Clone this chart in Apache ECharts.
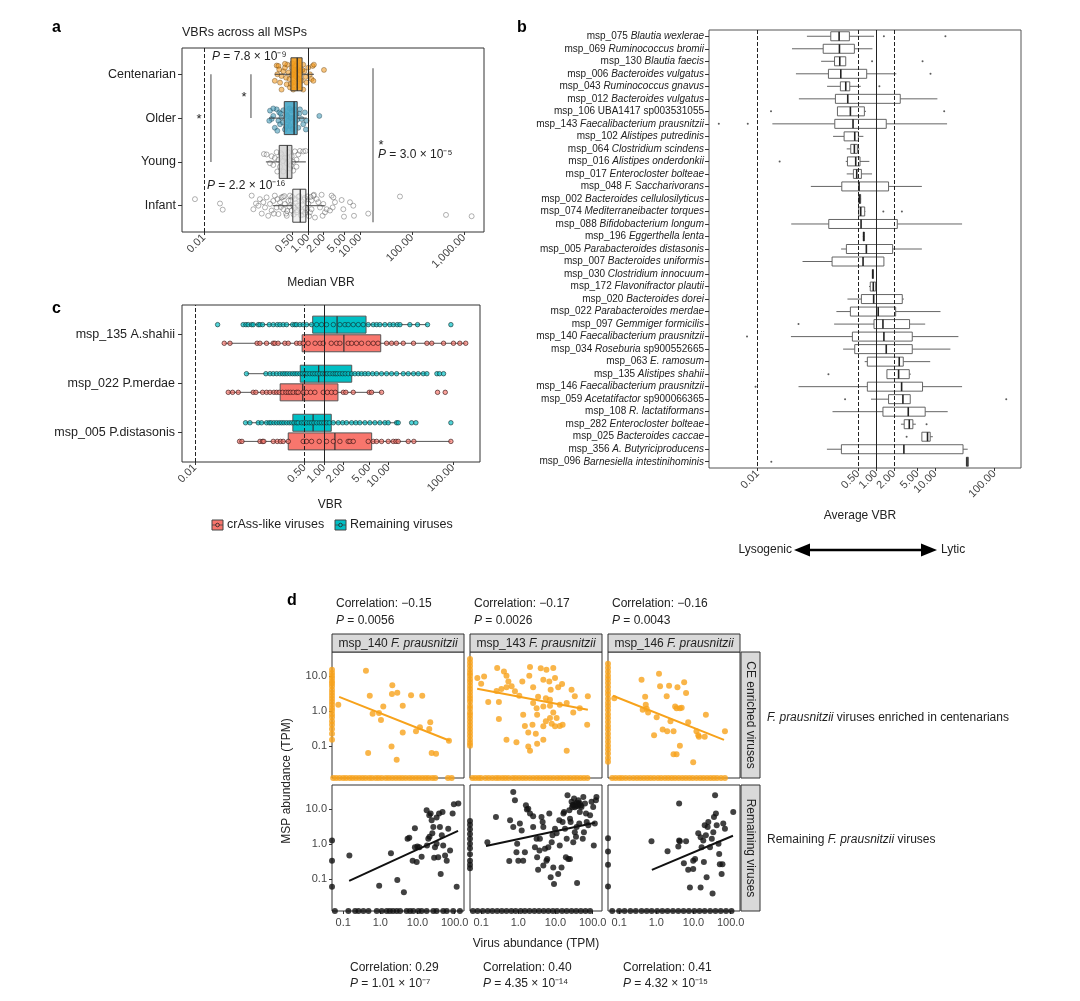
<!DOCTYPE html>
<html><head><meta charset="utf-8">
<script src="https://cdn.jsdelivr.net/npm/echarts@6/dist/echarts.min.js"></script>
<style>html,body{margin:0;padding:0;background:#fff}#c{width:1080px;height:1001px}</style>
</head><body><div id="c"></div>
<script>
// ================= DATA =================
// ---- panel a ----
const aGroups = ['Centenarian', 'Older', 'Young', 'Infant'];
const aStats = [[0.23, 0.47, 0.62, 0.77, 1.3], [0.18, 0.35, 0.54, 0.62, 0.94], [0.155, 0.28, 0.40, 0.49, 0.91], [0.21, 0.51, 0.71, 0.91, 2.1]];
const aTicks = [0.01, 0.5, 1, 2, 5, 10, 100, 1000];
const aTickLabels = ['0.01', '0.50', '1.00', '2.00', '5.00', '10.00', '100.00', '1,000.00'];
// [VBR, vertical jitter in category units]
const aCentPts = [[0.25,0.2],[0.27,0.19],[0.28,0.11],[0.257,0],[0.23,-0.15],[0.29,-0.19],[0.31,-0.04],[0.336,0.07],[0.36,0.15],[0.38,-0.08],[0.39,-0.23],[0.40,0.22],[0.42,0.04],[0.44,-0.11],[0.45,-0.3],[0.485,0.15],[0.51,0],[0.52,-0.19],[0.56,0.19],[0.6,0.07],[0.62,-0.08],[0.65,-0.26],[0.68,0.15],[0.70,0],[0.755,-0.15],[0.81,0.22],[0.85,0.07],[0.9,-0.06],[0.94,-0.19],[1.01,0.15],[1.09,0],[1.17,-0.11],[1.23,0.19],[1.27,-0.15],[1.3,0.22],[2.03,0.1],[0.31,-0.35],[0.52,-0.35],[0.81,-0.35],[0.36,0.24],[0.55,0.1],[0.58,-0.05],[0.63,0.12],[0.66,-0.12],[0.48,-0.02],[0.72,0.08],[0.5,0.25],[0.64,0.28],[0.47,-0.22],[0.78,0.1]];
const aOlderPts = [[0.186,0.17],[0.2,-0.02],[0.18,-0.06],[0.215,0.05],[0.23,-0.22],[0.25,0.2],[0.27,-0.06],[0.28,0.13],[0.29,-0.14],[0.31,0.015],[0.336,0.18],[0.36,-0.26],[0.39,0.09],[0.42,-0.06],[0.45,-0.18],[0.485,0.17],[0.52,0.015],[0.56,-0.1],[0.6,0.09],[0.65,-0.22],[0.7,0.2],[0.755,-0.02],[0.81,-0.14],[0.87,0.13],[0.94,-0.06],[0.91,-0.26],[1.65,0.05],[0.215,0.22],[0.257,-0.29],[0.33,-0.1],[0.4,0.05],[0.44,0.22],[0.5,-0.25],[0.55,0.2],[0.62,-0.04],[0.68,0.1],[0.38,-0.2],[0.47,0.0],[0.3,0.1]];
const aYoungPts = [[0.142,0.18],[0.16,0.17],[0.2,0.13],[0.215,-0.07],[0.25,0.22],[0.27,0.05],[0.29,-0.11],[0.31,0.17],[0.336,-0.22],[0.36,0.09],[0.39,-0.03],[0.42,0.22],[0.45,-0.15],[0.485,0.13],[0.52,0],[0.56,0.24],[0.6,-0.11],[0.65,0.17],[0.7,0.25],[0.81,0.24],[0.9,0.25],[0.6,0.05],[0.23,0.09],[0.186,-0.03],[0.257,-0.22],[0.52,-0.2],[0.33,0.02],[0.4,0.1],[0.47,-0.08],[0.3,0.2]];
const aInfantPts = [[0.0067,0.15],[0.0203,0.05],[0.0229,-0.09],[0.0826,0.23],[0.089,-0.08],[0.1,0.05],[0.111,0],[0.119,0.15],[0.129,-0.18],[0.138,0.08],[0.149,-0.04],[0.16,0.19],[0.172,-0.23],[0.186,0.04],[0.2,-0.11],[0.215,0.11],[0.23,0.23],[0.25,-0.04],[0.27,-0.19],[0.29,0.08],[0.31,0.19],[0.336,-0.08],[0.36,0.04],[0.39,-0.23],[0.42,0.11],[0.45,0.23],[0.485,-0.11],[0.52,0],[0.56,0.15],[0.6,-0.15],[0.65,0.2],[0.7,-0.05],[0.755,0.1],[0.81,-0.2],[0.87,0.18],[0.94,-0.1],[1.01,0.05],[1.09,-0.15],[1.17,0.12],[1.3,0.25],[1.36,-0.27],[1.47,0.15],[1.58,0.08],[1.7,-0.04],[1.83,0.25],[1.91,-0.23],[1.97,0.04],[2.12,-0.15],[2.29,-0.08],[2.65,-0.11],[2.85,0.23],[2.98,-0.04],[3.07,0.19],[3.3,0.08],[4.44,0.13],[4.78,-0.08],[4.92,-0.25],[6.42,0.08],[7.44,0],[7.67,-0.23],[14.4,-0.18],[58.7,0.21],[451,-0.21],[1403,-0.24],[1.27,0.23],[1.17,-0.08],[0.33,0.2],[0.38,-0.18],[0.44,-0.02],[0.5,0.2],[0.53,-0.2],[0.58,0.06],[0.62,-0.1],[0.68,0.22],[0.73,-0.22],[0.78,0.02],[0.84,0.14],[0.9,-0.05],[0.97,0.21],[1.05,-0.24],[0.47,0.12],[0.4,-0.12],[0.26,0.15],[0.22,-0.18],[0.64,0.0],[0.76,-0.13],[0.55,-0.05],[0.35,0.22],[0.88,-0.16],[1.12,0.2],[0.3,-0.03]];
// significance brackets: [VBR, from, to] (vertical positions in group units)
const aBrackets = [[0.08, 3, 2], [0.0136, 3, 1], [17.8, 3.14, -0.38]];

// ---- panel b ----
const bMsp = ['msp_075','msp_069','msp_130','msp_006','msp_043','msp_012','msp_106','msp_143','msp_102','msp_064','msp_016','msp_017','msp_048','msp_002','msp_074','msp_088','msp_196','msp_005','msp_007','msp_030','msp_172','msp_020','msp_022','msp_097','msp_140','msp_034','msp_063','msp_135','msp_146','msp_059','msp_108','msp_282','msp_025','msp_356','msp_096'];
const bTaxon = ['Blautia wexlerae','Ruminococcus bromii','Blautia faecis','Bacteroides vulgatus','Ruminococcus gnavus','Bacteroides vulgatus','UBA1417 sp003531055','Faecalibacterium prausnitzii','Alistipes putredinis','Clostridium scindens','Alistipes onderdonkii','Enterocloster bolteae','F. Saccharivorans','Bacteroides cellulosilyticus','Mediterraneibacter torques','Bifidobacterium longum','Eggerthella lenta','Parabacteroides distasonis','Bacteroides uniformis','Clostridium innocuum','Flavonifractor plautii','Bacteroides dorei','Parabacteroides merdae','Gemmiger formicilis','Faecalibacterium prausnitzii','Roseburia sp900552665','E. ramosum','Alistipes shahii','Faecalibacterium prausnitzii','Acetatifactor sp900066365','R. lactatiformans','Enterocloster bolteae','Bacteroides caccae','A. Butyriciproducens','Barnesiella intestinihominis'];
const bStats = [[0.068,0.172,0.238,0.355,0.925],[0.038,0.128,0.241,0.431,0.87],[0.118,0.199,0.244,0.308,0.308],[0.0443,0.157,0.254,0.696,2.2],[0.149,0.25,0.308,0.36,0.552],[0.0497,0.206,0.333,2.57,10.9],[0.223,0.223,0.369,0.636,0.678],[0.0177,0.201,0.409,1.49,15.9],[0.188,0.289,0.437,0.504,0.612],[0.32,0.374,0.431,0.484,0.524],[0.308,0.329,0.454,0.537,0.772],[0.32,0.415,0.472,0.566,0.857],[0.0792,0.264,0.517,1.63,5.96],[0.5,0.51,0.53,0.55,0.56],[0.51,0.51,0.552,0.644,0.66],[0.0369,0.159,0.559,2.29,28.5],[0.6,0.61,0.62,0.63,0.64],[0.257,0.316,0.687,1.91,5.96],[0.0573,0.181,0.604,1.36,1.36],[0.86,0.87,0.88,0.89,0.9],[0.762,0.80,0.90,0.987,1.013],[0.329,0.566,0.913,2.78,2.96],[0.214,0.369,1.09,2.15,12.3],[0.196,0.925,1.31,3.69,6.78],[0.0365,0.399,1.36,4.1,24.7],[0.278,0.437,1.49,4.1,18.1],[0.644,0.714,2.47,2.89,8.24],[1.53,1.53,2.41,3.65,3.89],[0.049,0.714,2.71,6.12,28.5],[0.824,1.63,2.85,3.79,3.79],[0.184,1.31,3.51,6.78,16.3],[2.64,3.0,3.65,4.2,4.72],[5.96,5.96,7.43,8.24,9.14],[0.148,0.26,2.96,29.6,35.5],[33.7,33.7,34.6,36.5,36.5]];
const bOutliers = [[0,1.36],[0,14.9],[2,0.857],[2,6.12],[3,8.35],[4,1.14],[6,0.0168],[6,14.2],[7,0.0068],[7,0.0022],[10,0.0235],[14,1.33],[14,2.74],[23,0.049],[24,0.0066],[27,0.157],[28,0.0092],[29,0.30],[29,159],[31,7.15],[32,3.29],[34,0.017]];
const bTicks = [0.01, 0.5, 1, 2, 5, 10, 100];
const bTickLabels = ['0.01', '0.50', '1.00', '2.00', '5.00', '10.00', '100.00'];

// ---- panel c ----
const cSpecies = ['msp_135 A.shahii', 'msp_022 P.merdae', 'msp_005 P.distasonis'];
const cRemStats = [[0.056,0.67,1.6,4.5,40.4],[0.063,0.43,0.83,2.7,39.5],[0.061,0.33,0.68,1.3,14.2]];
const cCrassStats = [[0.0285,0.46,2.04,7.6,158],[0.0329,0.21,0.47,1.65,7.83],[0.0493,0.28,1.48,5.5,93]];
const cRemPts = [
  [0.0225,0.056,0.0618,0.0671,0.0757,0.0802,0.0959,0.102,0.112,0.142,0.164,0.189,0.208,0.234,0.264,0.327,0.355,0.377,0.424,0.478,0.538,0.644,0.77,0.92,1.1,1.4,1.77,2.12,2.38,2.85,3.41,4.07,4.87,5.82,6.56,7.38,8.83,10.5,11.9,13.7,15.1,21.5,28.3,40.4,93],
  [0.063,0.126,0.146,0.164,0.185,0.208,0.229,0.248,0.27,0.297,0.327,0.355,0.386,0.424,0.466,0.507,0.55,0.606,0.667,0.724,0.789,0.867,0.953,1.04,1.13,1.24,1.38,1.5,1.61,1.77,1.95,2.14,2.38,2.69,3.02,3.41,3.83,4.33,4.87,5.69,6.56,7.83,9.37,11.2,13.4,17,20.3,24.5,29,34.7,39.5,56.5,62,71.6],
  [0.061,0.0713,0.0959,0.108,0.129,0.142,0.152,0.168,0.185,0.203,0.221,0.24,0.264,0.29,0.316,0.343,0.377,0.4,0.451,0.49,0.538,0.592,0.644,0.7,0.77,0.847,0.92,1.0,1.1,1.21,1.4,1.67,1.95,2.24,2.69,3.13,3.61,4.33,5.16,6.18,7.38,8.83,9.93,13.4,14.2,22.9,26.7,93]
];
const cCrassPts = [
  [0.0285,0.035,0.092,0.102,0.129,0.164,0.174,0.195,0.248,0.28,0.377,0.424,0.478,0.57,0.73,0.87,0.977,1.3,1.57,1.77,2.38,2.69,3.2,3.83,4.87,5.82,6.9,9.37,11.2,13.3,17,24.5,39.5,47,71.6,102,128,158],
  [0.0329,0.0384,0.047,0.0802,0.0883,0.112,0.129,0.146,0.168,0.185,0.203,0.229,0.257,0.28,0.304,0.334,0.377,0.4,0.478,0.538,0.621,0.724,0.977,1.13,1.31,1.5,2.0,2.19,2.85,5.05,5.48,7.83,57.8,76],
  [0.0493,0.0536,0.102,0.112,0.117,0.164,0.189,0.213,0.234,0.28,0.478,0.538,0.644,0.847,1.1,1.4,1.77,2.38,2.53,2.85,4.87,5.82,6.56,7.83,9.93,11.9,13.1,14.2,20.3,24.8,93]
];

// ---- panel d ----  [virus TPM, MSP TPM]; zeros listed separately
const dMsp = ['msp_140', 'msp_143', 'msp_146'];
const dTopPts1 = [[0.41,14],[0.52,2.7],[0.62,0.82],[0.92,0.86],[1.2,1.33],[0.47,0.062],[1.04,0.55],[2.05,3.0],[2.1,5.4],[2.86,3.3],[4.0,1.39],[6.7,2.8],[13.4,2.7],[9.1,0.26],[4.0,0.24],[2.0,0.095],[2.75,0.04],[11.6,0.34],[22,0.47],[24,0.062],[31.5,0.059],[20.7,0.3],[70,0.14],[0.074,1.48]];
const dTopPts2 = [[0.079,8.6],[0.10,5.9],[0.155,1.77],[0.27,16.6],[0.41,13.3],[0.48,10],[0.54,6.9],[0.48,4.7],[0.35,4.2],[0.66,5.0],[0.81,3.6],[1.06,2.7],[1.28,6.9],[1.97,10],[2.06,17.7],[2.5,4.7],[4.0,16.3],[4.7,7.7],[5.7,14.8],[6.8,6.9],[8.7,16.6],[9.7,8.6],[11.8,4.7],[15,5.8],[7.4,4.0],[5.5,2.3],[3.4,2.5],[2.5,1.66],[3.1,1.19],[4.7,1.33],[7.1,1.39],[8.7,0.9],[13,1.48],[20,1.66],[30,0.9],[45,1.19],[71,0.4],[74,2.6],[0.30,0.58],[0.48,0.15],[0.89,0.126],[1.5,0.37],[1.85,0.24],[2.4,0.4],[2.95,0.22],[3.2,0.115],[4.7,0.36],[5.5,0.5],[7.1,0.62],[7.9,0.43],[9.7,0.36],[10.7,0.62],[13,0.37],[15.5,0.4],[20,0.072],[2.06,0.072],[1.85,0.095],[0.30,1.77],[0.26,3.7],[0.12,9.6],[3.2,0.77],[1.35,0.77],[7.1,2.06],[27,4.0],[33,2.6],[4.7,0.15]];
const dTopPts3 = [[0.074,2.3],[0.40,7.7],[0.50,2.5],[0.52,1.48],[0.55,1.15],[0.43,1.07],[0.6,0.9],[1.02,0.65],[1.18,11.5],[1.26,5.0],[1.9,2.6],[2.2,5.2],[2.4,0.5],[2.9,0.26],[3.5,1.19],[3.7,4.7],[4.3,1.19],[4.8,1.22],[5.6,6.5],[6.3,3.2],[2.9,0.057],[3.5,0.057],[4.3,0.1],[7.2,0.47],[9.8,0.034],[12,0.26],[13.4,0.2],[14,0.18],[20,0.18],[21.5,0.77],[70,0.26],[0.87,0.2],[1.48,0.29],[1.96,0.26],[3.2,1.33]];
const dBotPts1 = [[0.147,0.46],[1.93,0.54],[2.86,0.092],[4.3,0.041],[5.4,1.39],[6.0,1.49],[7.4,0.33],[8.5,2.8],[9.5,0.3],[9.9,0.84],[11.2,0.8],[12.9,0.43],[17.6,9.1],[19.5,1.39],[20.7,6.5],[22.5,7.3],[24,4.7],[26.6,3.0],[28,0.4],[29.5,0.8],[32.6,5.6],[36,0.41],[38,7.3],[40,3.0],[42,0.138],[47,8.1],[49,0.89],[55,0.46],[61,0.33],[67,2.7],[75,0.64],[88,7.3],[95,13.5],[113,0.059],[125,14.1],[0.93,0.063],[8.5,0.8],[18,0.89],[21,1.58],[25,1.99],[32.6,1.0],[45,1.75]];
const dBotPts2 = [[0.147,1.11],[0.25,5.8],[0.57,0.32],[0.73,30],[0.81,17.6],[0.89,0.57],[0.93,1.0],[1.0,0.33],[1.1,3.8],[1.23,2.4],[1.35,0.33],[1.6,12.6],[1.7,9.5],[1.85,10],[2.06,7.3],[2.5,6.1],[2.8,0.8],[3.1,1.39],[3.2,0.41],[3.4,0.18],[3.7,0.64],[3.8,1.39],[4.2,5.8],[4.5,4.2],[4.7,3.0],[5.2,0.72],[5.7,0.33],[6.4,0.8],[6.8,7.3],[7.4,0.11],[7.9,1.11],[8.3,1.75],[9.1,0.071],[9.7,2.7],[10.7,2.0],[11.8,0.138],[13,0.89],[14.5,0.21],[15.5,4.2],[16.3,7.3],[17,8.1],[18,2.7],[19,0.41],[20,1.39],[21,24.5],[22,0.37],[23.5,9.1],[24.5,5.2],[25.5,4.2],[27,15.8],[29,12.6],[30,1.11],[31.5,19.6],[33,2.15],[35.5,1.58],[37,3.0],[38,0.076],[41,17.6],[43.5,3.8],[45,8.1],[50,11.3],[54,1.39],[56,21.8],[58,2.15],[62,14.1],[66,7.3],[69,4.2],[76,3.4],[85,6.5],[93,15.8],[103,11.3],[114,3.8],[122,17.6],[126,21.8],[107,0.89],[0.73,3.0],[0.6,4.7],[1.5,0.57],[2.5,3.0],[4.7,0.24],[6.0,0.37],[8.7,0.21],[12.6,4.7],[24.5,0.37],[30,13],[35,14],[40,12],[33,11],[38,15],[42,13.5],[36,12],[45,14.5],[28,11],[48,12.5]];
const dBotPts3 = [[0.74,1.19],[2.0,0.61],[3.9,0.84],[4.3,1.19],[5.5,0.28],[6.3,1.19],[7.2,0.18],[9.8,0.19],[11,0.37],[13.4,2.0],[15.5,1.55],[16.5,0.8],[18.3,1.25],[19,0.3],[20,3.4],[21.5,1.75],[22.5,0.11],[24,3.0],[25,4.2],[27.7,0.8],[31,1.39],[34,2.15],[35.5,5.8],[38,24.5],[40,7.3],[42,3.4],[47,1.0],[49,0.51],[51,0.26],[57,0.138],[60,0.26],[63,3.8],[70,2.7],[117,8.1],[8.0,0.056],[4.1,1.25],[15.5,0.056],[32.5,0.038],[9.8,0.33],[4.1,14.1]];
// virus TPM of points whose MSP abundance is 0
const dTopZeroMsp = [
  [0.054,0.065,0.08,0.1,0.12,0.15,0.18,0.22,0.27,0.33,0.4,0.5,0.6,0.75,0.9,1.1,1.4,1.7,2.1,2.6,3.2,3.9,4.8,6,7.3,9,11,13.5,16.5,20,25,30,66,83],
  [0.058,0.07,0.085,0.1,0.13,0.16,0.2,0.25,0.3,0.37,0.45,0.55,0.7,0.85,1.05,1.3,1.6,2,2.5,3.1,3.8,4.7,5.8,7.1,8.8,11,13.5,16.5,20.5,25,31,38,47,58,72],
  [0.065,0.08,0.1,0.12,0.15,0.19,0.24,0.3,0.37,0.46,0.57,0.7,0.87,1.1,1.35,1.7,2.1,2.6,3.2,4,5,6.2,7.7,9.5,12,15,18.5,23,28.5,35,43,55,70]
];
const dBotZeroMsp = [
  [0.06,0.138,0.21,0.26,0.35,0.48,0.8,1.09,1.48,1.8,2.2,2.75,3.4,5.1,6.3,7.7,10.5,12.9,17.6,26.6,32.6,49,61,91,138],
  [0.06,0.08,0.11,0.15,0.2,0.27,0.36,0.48,0.65,0.85,1.15,1.5,2,2.7,3.6,4.8,6.4,8.5,11,15,20,27,36,48,64,85],
  [0.065,0.1,0.14,0.2,0.28,0.4,0.55,0.75,1.05,1.45,2,2.8,3.9,5.4,7.5,10.5,14.5,20,28,39,54,75,105]
];
// MSP TPM of points whose virus abundance is 0
const dTopZeroVir = [
  [14.8,12,10,8.5,7,6,5,4,3.3,2.7,2.2,1.8,1.5,1.2,1.0,0.8,0.65,0.5,0.4,0.3,0.22,0.15],
  [30,24,19,15,12,10,8,6.5,5.2,4.2,3.4,2.7,2.2,1.8,1.4,1.15,0.9,0.75,0.6,0.48,0.38,0.3,0.24,0.19,0.15,0.12,0.1],
  [22,17,13,10,8,6.2,4.8,3.7,2.9,2.2,1.7,1.35,1.05,0.8,0.62,0.48,0.37,0.29,0.22,0.17,0.13,0.1,0.078,0.06,0.045,0.035]
];
const dBotZeroVir = [[1.25,0.33,0.059],[4.5,3.5,2.6,1.9,1.4,1.0,0.75,0.5,0.33,0.25,0.2],[1.45,0.6,0.25,0.06]];
// fitted regression endpoints [x1, y1, x2, y2]
const dTopFit = [[0.078,2.51,74,0.139],[0.078,4.26,74,1.07],[0.068,2.69,66,0.148]];
const dBotFit = [[0.145,0.087,123,2.34],[0.135,0.87,115,4.0],[0.76,0.18,115,1.7]];
const dTopCorr = ['−0.15', '−0.17', '−0.16'];
const dTopP = ['0.0056', '0.0026', '0.0043'];
const dBotCorr = ['0.29', '0.40', '0.41'];
const dBotP = ['1.01 × 10⁻⁷', '4.35 × 10⁻¹⁴', '4.32 × 10⁻¹⁵'];
const dXTicks = [0.1, 1, 10, 100];
const dXTickLabels = ['0.1', '1.0', '10.0', '100.0'];
const dYTicks = [0.1, 1, 10];
const dYTickLabels = ['0.1', '1.0', '10.0'];

// ================= BUILD =================
const FONT = '"Liberation Sans", Arial, Helvetica, sans-serif';
const TXT = '#222';
const lg = v => Math.log10(v);
const labelFor = (v, ticks, labels) => {
  for (let i = 0; i < ticks.length; i++) if (Math.abs(lg(ticks[i]) - v) < 1e-6) return labels[i];
  return '';
};

const gridDefs = [
  {left: 182, top: 48, width: 302, height: 184},
  {left: 709, top: 30, width: 312, height: 438},
  {left: 182, top: 305, width: 298, height: 157},
  {left: 332, top: 652, width: 132, height: 126},
  {left: 470, top: 652, width: 132, height: 126},
  {left: 608, top: 652, width: 132, height: 126},
  {left: 332, top: 785, width: 132, height: 126},
  {left: 470, top: 785, width: 132, height: 126},
  {left: 608, top: 785, width: 132, height: 126}
];
const grids = gridDefs.map((g, i) => Object.assign({show: true, borderColor: i === 1 ? '#555' : '#333', borderWidth: 1, backgroundColor: 'rgba(0,0,0,0)', containLabel: false, outerBoundsMode: 'none'}, g));

function logX(gridIndex, min, max, ticks, labels, showLabels, rotate, fontSize) {
  const cv = ticks.map(lg);
  return {
    type: 'value', gridIndex, min, max, position: 'bottom',
    axisLine: {show: false, onZero: false}, splitLine: {show: false},
    axisTick: {show: showLabels, length: 3, lineStyle: {color: '#333'}, customValues: cv},
    axisLabel: {show: showLabels, customValues: cv, formatter: v => labelFor(v, ticks, labels),
      rotate: rotate, fontSize: fontSize, color: '#444', fontFamily: FONT, margin: rotate ? 4 : 6}
  };
}

const xAxes = [
  logX(0, -2.423, 3.385, aTicks, aTickLabels, true, 45, 11),
  logX(1, -2.823, 2.451, bTicks, bTickLabels, true, 45, 11),
  logX(2, -2.2, 2.42, bTicks, bTickLabels, true, 45, 11)
];
for (let k = 0; k < 6; k++) xAxes.push(logX(3 + k, -1.3, 2.25, dXTicks, dXTickLabels, k >= 3, 0, 11));

const rich10 = {
  n: {fontSize: 10, fontFamily: FONT, color: TXT},
  i: {fontSize: 10, fontFamily: FONT, color: TXT, fontStyle: 'italic'}
};
function taxonRich(t) {
  return t.split(' ').map(w => /^(sp\d|UBA)/.test(w) ? '{n|' + w + '}' : '{i|' + w + '}').join('{n| }');
}

const yAxes = [
  {type: 'value', gridIndex: 0, min: -0.6, max: 3.6, position: 'left', axisLine: {show: false, onZero: false}, splitLine: {show: false},
   axisTick: {show: true, length: 4, customValues: [0, 1, 2, 3], lineStyle: {color: '#333'}},
   axisLabel: {customValues: [0, 1, 2, 3], formatter: v => aGroups[3 - Math.round(v)], fontSize: 12.5, color: TXT, fontFamily: FONT, margin: 6}},
  {type: 'category', gridIndex: 1, data: bMsp, inverse: true, position: 'left', axisLine: {show: false, onZero: false}, splitLine: {show: false},
   axisTick: {show: true, length: 4, alignWithLabel: true, interval: 0, lineStyle: {color: '#333'}},
   axisLabel: {interval: 0, margin: 5, fontSize: 10, color: TXT, fontFamily: FONT,
     formatter: (val, idx) => '{n|' + bMsp[idx] + ' }' + taxonRich(bTaxon[idx]), rich: rich10}},
  {type: 'value', gridIndex: 2, min: -0.6, max: 2.6, position: 'left', axisLine: {show: false, onZero: false}, splitLine: {show: false},
   axisTick: {show: true, length: 4, customValues: [0, 1, 2], lineStyle: {color: '#333'}},
   axisLabel: {customValues: [0, 1, 2], formatter: v => cSpecies[2 - Math.round(v)], fontSize: 12.5, color: TXT, fontFamily: FONT, margin: 7}}
];
for (let k = 0; k < 6; k++) {
  const left = k % 3 === 0;
  const cv = dYTicks.map(lg);
  yAxes.push({type: 'value', gridIndex: 3 + k, min: -1.92, max: 1.68, position: 'left', axisLine: {show: false, onZero: false}, splitLine: {show: false},
    axisTick: {show: left, length: 3, customValues: cv, lineStyle: {color: '#333'}},
    axisLabel: {show: left, customValues: cv, formatter: v => labelFor(v, dYTicks, dYTickLabels), fontSize: 11, color: '#444', fontFamily: FONT, margin: 5}});
}

function boxRender(opt) {
  return function (params, api) {
    const y = api.value(0);
    const pMin = api.coord([api.value(1), y]);
    const pQ1 = api.coord([api.value(2), y]);
    const pMed = api.coord([api.value(3), y]);
    const pQ3 = api.coord([api.value(4), y]);
    const pMax = api.coord([api.value(5), y]);
    const cy = pMed[1], h = opt.h;
    const fill = Array.isArray(opt.fill) ? opt.fill[params.dataIndex] : opt.fill;
    return {type: 'group', children: [
      {type: 'line', shape: {x1: pMin[0], y1: cy, x2: pQ1[0], y2: cy}, style: {stroke: opt.stroke, lineWidth: opt.lw}},
      {type: 'line', shape: {x1: pQ3[0], y1: cy, x2: pMax[0], y2: cy}, style: {stroke: opt.stroke, lineWidth: opt.lw}},
      {type: 'rect', shape: {x: pQ1[0], y: cy - h / 2, width: Math.max(pQ3[0] - pQ1[0], 1), height: h}, style: {fill: fill, stroke: opt.stroke, lineWidth: opt.lw}},
      {type: 'line', shape: {x1: pMed[0], y1: cy - h / 2, x2: pMed[0], y2: cy + h / 2}, style: {stroke: opt.medStroke, lineWidth: opt.medLw}}
    ]};
  };
}
function boxSeries(gi, data, opt, z) {
  return {type: 'custom', coordinateSystem: 'cartesian2d', xAxisIndex: gi, yAxisIndex: gi,
    dimensions: ['y', 'min', 'q1', 'med', 'q3', 'max'], encode: {x: [1, 2, 3, 4, 5], y: 0},
    data: data, renderItem: boxRender(opt), z: z, silent: true};
}
const toLogStats = s => s.map(lg);
function refLines(vals, dashed) {
  return {silent: true, symbol: ['none', 'none'], label: {show: false}, animation: false,
    data: vals.map((v, i) => ({xAxis: lg(v), lineStyle: {color: '#222', width: 1, type: dashed[i] ? 'dashed' : 'solid'}}))};
}

const series = [];
// ---- panel a ----
const aPtsAll = [aCentPts, aOlderPts, aYoungPts, aInfantPts];
const aPtStyle = [
  {color: 'rgba(240,150,25,0.7)', borderColor: 'rgba(90,55,10,0.8)', borderWidth: 0.6},
  {color: 'rgba(60,150,180,0.7)', borderColor: 'rgba(20,55,70,0.8)', borderWidth: 0.6},
  {color: 'rgba(255,255,255,0.2)', borderColor: 'rgba(70,70,70,0.75)', borderWidth: 0.7},
  {color: 'rgba(255,255,255,0.2)', borderColor: 'rgba(70,70,70,0.75)', borderWidth: 0.7}
];
aPtsAll.forEach((pts, gi) => {
  const s = {type: 'scatter', xAxisIndex: 0, yAxisIndex: 0, symbolSize: 5, z: 2, silent: true,
    data: pts.map(p => [lg(p[0]), (3 - gi) + p[1]]), itemStyle: aPtStyle[gi]};
  if (gi === 3) s.markLine = refLines([0.01, 1], [true, false]);
  series.push(s);
});
series.push(boxSeries(0, aStats.map((s, gi) => [3 - gi].concat(toLogStats(s))),
  {h: 33, fill: ['rgba(242,155,25,0.9)', 'rgba(70,166,198,0.9)', 'rgba(210,210,210,0.85)', 'rgba(232,232,232,0.6)'], stroke: '#444', lw: 1, medStroke: '#222', medLw: 1.2}, 3));
aBrackets.forEach(b => series.push({type: 'line', xAxisIndex: 0, yAxisIndex: 0, symbol: 'none', silent: true, z: 4,
  data: [[lg(b[0]), b[1]], [lg(b[0]), b[2]]], lineStyle: {color: '#666', width: 1.2}}));

// ---- panel b ----
series.push(boxSeries(1, bStats.map((s, i) => [i].concat(toLogStats(s))),
  {h: 9, fill: '#fff', stroke: '#555', lw: 0.9, medStroke: '#222', medLw: 1.6}, 3));
series.push({type: 'scatter', xAxisIndex: 1, yAxisIndex: 1, symbolSize: 2, z: 4, silent: true,
  data: bOutliers.map(o => [lg(o[1]), o[0]]), itemStyle: {color: '#333'},
  markLine: refLines([0.01, 0.5, 1, 2], [true, true, false, true])});

// ---- panel c ----
const cRemOff = 0.2, cCrassOff = -0.18;
series.push(boxSeries(2, cRemStats.map((s, i) => [(2 - i) + cRemOff].concat(toLogStats(s))),
  {h: 17, fill: '#00BFC4', stroke: '#555', lw: 1, medStroke: '#333', medLw: 1.2}, 2));
series.push(boxSeries(2, cCrassStats.map((s, i) => [(2 - i) + cCrassOff].concat(toLogStats(s))),
  {h: 17, fill: '#F8766D', stroke: '#555', lw: 1, medStroke: '#333', medLw: 1.2}, 2));
const cRemData = [], cCrassData = [];
cRemPts.forEach((arr, i) => arr.forEach(v => cRemData.push([lg(v), (2 - i) + cRemOff])));
cCrassPts.forEach((arr, i) => arr.forEach(v => cCrassData.push([lg(v), (2 - i) + cCrassOff])));
series.push({type: 'scatter', xAxisIndex: 2, yAxisIndex: 2, symbolSize: 4.5, z: 4, silent: true, data: cRemData,
  itemStyle: {color: 'rgba(0,191,196,0.85)', borderColor: '#133', borderWidth: 0.8},
  markLine: refLines([0.01, 0.5, 1], [true, true, false])});
series.push({type: 'scatter', xAxisIndex: 2, yAxisIndex: 2, symbolSize: 4.5, z: 4, silent: true, data: cCrassData,
  itemStyle: {color: 'rgba(248,118,109,0.85)', borderColor: '#311', borderWidth: 0.8}});

// ---- panel d ----
const D_XMIN = -1.3, D_YMIN = -1.92;
const dTop = [dTopPts1, dTopPts2, dTopPts3], dBot = [dBotPts1, dBotPts2, dBotPts3];
function dPanel(gi, pts, zeroMsp, zeroVir, fit, color) {
  const data = pts.map(p => [lg(p[0]), lg(p[1])])
    .concat(zeroMsp.map(x => [lg(x), D_YMIN]))
    .concat(zeroVir.map(y => [D_XMIN, lg(y)]));
  series.push({type: 'scatter', xAxisIndex: gi, yAxisIndex: gi, symbolSize: 6, z: 3, silent: true, data: data,
    itemStyle: {color: color}, clip: false});
  series.push({type: 'line', xAxisIndex: gi, yAxisIndex: gi, symbol: 'none', z: 4, silent: true,
    data: [[lg(fit[0]), lg(fit[1])], [lg(fit[2]), lg(fit[3])]], lineStyle: {color: color, width: 2}});
}
for (let k = 0; k < 3; k++) {
  dPanel(3 + k, dTop[k], dTopZeroMsp[k], dTopZeroVir[k], dTopFit[k], '#F7A21B');
  dPanel(6 + k, dBot[k], dBotZeroMsp[k], dBotZeroVir[k], dBotFit[k], '#111');
}

// ================= TEXT / ANNOTATIONS =================
const gfx = [];
function T(x, y, text, o) {
  o = o || {};
  const style = {text: text, x: 0, y: 0, fontSize: o.size || 12, fontFamily: FONT, fill: o.color || TXT,
    fontWeight: o.weight || 'normal', fontStyle: o.style || 'normal', align: o.align || 'left', verticalAlign: o.va || 'middle'};
  if (o.rich) style.rich = o.rich;
  gfx.push({type: 'text', x: x, y: y, rotation: o.rot || 0, z: 100, style: style, silent: true});
}
const richP = s => ({i: {fontStyle: 'italic', fontSize: s, fontFamily: FONT, fill: TXT, color: TXT}, n: {fontSize: s, fontFamily: FONT, fill: TXT, color: TXT}});
// panel labels
T(52, 28, 'a', {size: 16, weight: 'bold', color: '#000'});
T(517, 28, 'b', {size: 16, weight: 'bold', color: '#000'});
T(52, 309, 'c', {size: 16, weight: 'bold', color: '#000'});
T(287, 601, 'd', {size: 16, weight: 'bold', color: '#000'});
// panel a
T(182, 33, 'VBRs across all MSPs', {size: 12.5});
T(212, 57, '{i|P}{n| = 7.8 × 10⁻⁹}', {rich: richP(12)});
T(207, 186, '{i|P}{n| = 2.2 × 10⁻¹⁶}', {rich: richP(12)});
T(378, 155, '{i|P}{n| = 3.0 × 10⁻⁵}', {rich: richP(12)});
T(244, 97, '*', {size: 13, align: 'center'});
T(199, 119, '*', {size: 13, align: 'center'});
T(381, 145, '*', {size: 13, align: 'center'});
T(321, 283, 'Median VBR', {size: 12, align: 'center'});
// panel b
T(860, 516, 'Average VBR', {size: 12, align: 'center'});
T(792, 550, 'Lysogenic', {size: 12, align: 'right'});
T(941, 550, 'Lytic', {size: 12});
gfx.push({type: 'line', shape: {x1: 805, y1: 550, x2: 925, y2: 550}, style: {stroke: '#000', lineWidth: 2.5}, z: 100, silent: true});
gfx.push({type: 'polygon', shape: {points: [[794, 550], [810, 543.5], [810, 556.5]]}, style: {fill: '#000'}, z: 100, silent: true});
gfx.push({type: 'polygon', shape: {points: [[937, 550], [921, 543.5], [921, 556.5]]}, style: {fill: '#000'}, z: 100, silent: true});
// panel c
T(330, 505, 'VBR', {size: 12, align: 'center'});
function legendKey(x, y, fill) {
  gfx.push({type: 'rect', shape: {x: x, y: y - 5, width: 11, height: 10}, style: {fill: fill, stroke: '#444', lineWidth: 1}, z: 100, silent: true});
  gfx.push({type: 'line', shape: {x1: x, y1: y, x2: x + 11, y2: y}, style: {stroke: '#444', lineWidth: 0.8}, z: 101, silent: true});
  gfx.push({type: 'circle', shape: {cx: x + 5.5, cy: y, r: 1.8}, style: {fill: fill, stroke: '#222', lineWidth: 0.8}, z: 102, silent: true});
}
legendKey(212, 525, '#F8766D');
T(227, 525, 'crAss-like viruses', {size: 12.5});
legendKey(335, 525, '#00BFC4');
T(350, 525, 'Remaining viruses', {size: 12.5});
// panel d strips
const colX = [332, 470, 608];
const stripRich = {n: {fontSize: 12, fontFamily: FONT, fill: TXT, color: TXT}, i: {fontSize: 12, fontFamily: FONT, fill: TXT, color: TXT, fontStyle: 'italic'}};
colX.forEach((x, k) => {
  gfx.push({type: 'rect', shape: {x: x, y: 634, width: 132, height: 18}, style: {fill: '#D9D9D9', stroke: '#333', lineWidth: 1}, z: 99, silent: true});
  T(x + 66, 643.5, '{n|' + dMsp[k] + ' }{i|F. prausnitzii}', {align: 'center', rich: stripRich});
  T(x + 4, 604, 'Correlation: ' + dTopCorr[k], {size: 12});
  T(x + 4, 621, '{i|P}{n| = ' + dTopP[k] + '}', {rich: richP(12)});
});
const botX = [350, 483, 623];
botX.forEach((x, k) => {
  T(x, 968, 'Correlation: ' + dBotCorr[k], {size: 12});
  T(x, 984, '{i|P}{n| = ' + dBotP[k] + '}', {rich: richP(12)});
});
[[652, 'CE enriched viruses'], [785, 'Remaining viruses']].forEach(r => {
  gfx.push({type: 'rect', shape: {x: 741, y: r[0], width: 19, height: 126}, style: {fill: '#D9D9D9', stroke: '#333', lineWidth: 1}, z: 99, silent: true});
  T(750.5, r[0] + 63, r[1], {size: 12, align: 'center', rot: -Math.PI / 2});
});
T(287, 781, 'MSP abundance (TPM)', {size: 12, align: 'center', rot: Math.PI / 2});
T(536, 944, 'Virus abundance (TPM)', {size: 12, align: 'center'});
T(767, 718, '{i|F. prausnitzii}{n| viruses enriched in centenarians}', {rich: richP(12)});
T(767, 840, '{n|Remaining }{i|F. prausnitzii}{n| viruses}', {rich: richP(12)});

const chart = echarts.init(document.getElementById('c'), null, {renderer: 'canvas', width: 1080, height: 1001});
chart.setOption({
  animation: false,
  backgroundColor: '#fff',
  textStyle: {fontFamily: FONT},
  grid: grids, xAxis: xAxes, yAxis: yAxes, series: series, graphic: {elements: gfx}
});
</script></body></html>
